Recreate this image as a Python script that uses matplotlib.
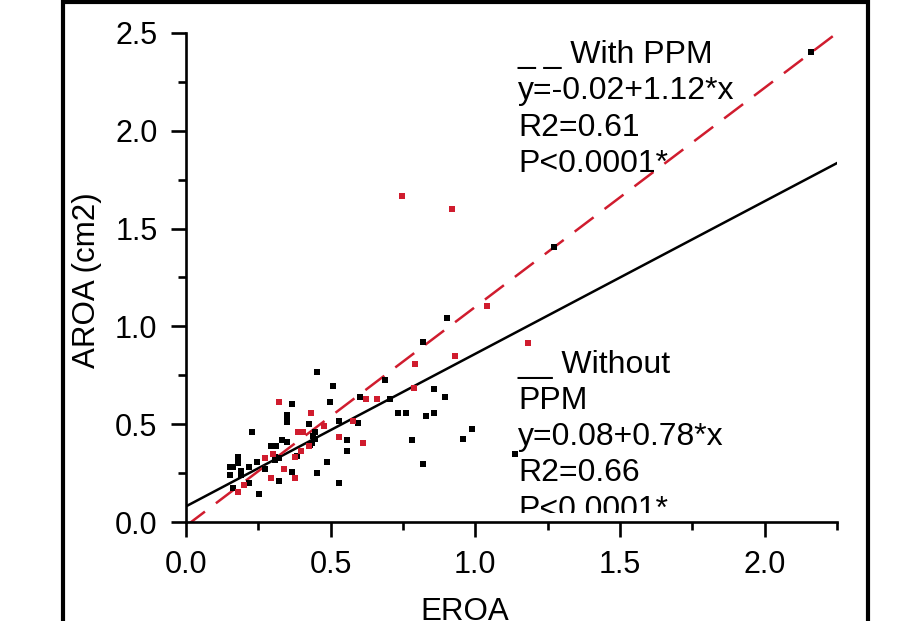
import matplotlib
matplotlib.use("Agg")
import matplotlib.pyplot as plt
import numpy as np
from matplotlib.patches import Rectangle
from matplotlib.transforms import Bbox
from matplotlib.ticker import MultipleLocator

plt.rcParams['font.family'] = ['Liberation Sans', 'DejaVu Sans']

# Without PPM (black)
black_x = [0.368, 0.349, 0.349, 0.349, 0.424, 0.227, 0.447, 0.440, 0.447, 0.331,
           0.349, 0.294, 0.312, 0.435, 0.430, 0.306, 0.306, 0.322, 0.383, 0.181,
           0.181, 0.181, 0.152, 0.164, 0.218, 0.247, 0.190, 0.190, 0.152, 0.274,
           0.320, 0.368, 0.453, 0.218, 0.164, 0.254,
           0.453, 0.508, 0.687, 0.499, 0.528, 0.593, 0.603, 0.704, 0.733, 0.762,
           0.857, 0.894, 0.831, 0.857, 0.782, 0.818, 0.556, 0.556, 0.489, 0.528,
           0.903, 0.819, 0.958, 0.987, 1.137, 1.271, 2.159]
black_y = [0.602, 0.547, 0.530, 0.513, 0.503, 0.462, 0.459, 0.440, 0.425, 0.419,
           0.411, 0.390, 0.390, 0.405, 0.394, 0.334, 0.317, 0.326, 0.337, 0.334,
           0.317, 0.300, 0.283, 0.283, 0.283, 0.308, 0.261, 0.240, 0.240, 0.271,
           0.211, 0.254, 0.252, 0.198, 0.172, 0.143,
           0.765, 0.697, 0.724, 0.615, 0.516, 0.505, 0.641, 0.627, 0.559, 0.559,
           0.682, 0.641, 0.543, 0.559, 0.419, 0.295, 0.419, 0.365, 0.308, 0.198,
           1.043, 0.919, 0.423, 0.475, 0.348, 1.406, 2.404]

# With PPM (red)
red_x = [0.320, 0.433, 0.387, 0.406, 0.477, 0.426, 0.397, 0.378, 0.274, 0.302,
         0.340, 0.293, 0.378, 0.199, 0.181,
         0.528, 0.576, 0.611, 0.621, 0.659, 0.789, 0.790, 0.931, 1.039, 1.183,
         0.748, 0.921]
red_y = [0.615, 0.559, 0.462, 0.462, 0.490, 0.390, 0.363, 0.330, 0.326, 0.349,
         0.271, 0.226, 0.226, 0.187, 0.155,
         0.433, 0.516, 0.405, 0.627, 0.627, 0.683, 0.809, 0.850, 1.104, 0.917,
         1.667, 1.599]

# regression fits
fit_without = (0.08, 0.78)
fit_with = (-0.02, 1.12)

with_text = ["_ _ With PPM", "y=-0.02+1.12*x", "R2=0.61", "P<0.0001*"]
without_text = ["__ Without", "PPM", "y=0.08+0.78*x", "R2=0.66", "P<0.0001*"]

RED = '#d01c2e'
W, H = 904, 621
fig = plt.figure(figsize=(W / 100, H / 100), dpi=100)
ax = fig.add_axes([186 / W, 1 - 522 / H, (837 - 186) / W, (522 - 33) / H])

xl = np.linspace(0, 2.25, 200)
ax.plot(xl, fit_without[0] + fit_without[1] * xl, color='black', lw=1.8, zorder=2)
ax.plot(xl, fit_with[0] + fit_with[1] * xl, color=RED, lw=1.8,
        dashes=(9.5, 5.5), zorder=2)

ax.plot(black_x, black_y, 's', color='black', ms=3.9, mew=0, zorder=3)
ax.plot(red_x, red_y, 's', color=RED, ms=3.9, mew=0, zorder=3)

ax.set_xlim(0, 2.25)
ax.set_ylim(0, 2.5)
ax.xaxis.set_major_locator(MultipleLocator(0.5))
ax.xaxis.set_minor_locator(MultipleLocator(0.25))
ax.yaxis.set_major_locator(MultipleLocator(0.5))
ax.yaxis.set_minor_locator(MultipleLocator(0.25))
ax.xaxis.set_major_formatter(plt.FormatStrFormatter('%.1f'))
ax.yaxis.set_major_formatter(plt.FormatStrFormatter('%.1f'))

for s in ['top', 'right']:
    ax.spines[s].set_visible(False)
for s in ['left', 'bottom']:
    ax.spines[s].set_linewidth(1.9)

ax.tick_params(which='major', length=10.5, width=1.9, direction='out',
               labelsize=22, pad=10)
ax.tick_params(which='minor', length=5.5, width=1.9, direction='out')

fig.text(87 / W, 1 - 280 / H, "AROA (cm2)", rotation=90, ha='center',
         va='center', fontsize=22.5)
fig.text(465 / W, 1 - 620 / H, "EROA", ha='center', va='baseline', fontsize=22.5)

for i, t in enumerate(with_text):
    fig.text(518 / W, 1 - (63 + 36.4 * i) / H, t, ha='left', va='baseline',
             fontsize=23)
clip = Bbox.from_extents(0, H - 513, W, H)
for i, t in enumerate(without_text):
    tx = fig.text(518 / W, 1 - (372.7 + 36.2 * i) / H, t, ha='left',
                  va='baseline', fontsize=23)
    tx.set_clip_box(clip)
    tx.set_clip_on(True)

fig.add_artist(Rectangle((63 / W, -0.1), (868 - 63) / W, 1.1 - 2 / H,
                         transform=fig.transFigure, fill=False, lw=3,
                         edgecolor='black', clip_on=False))

fig.savefig('out.png', dpi=100)
